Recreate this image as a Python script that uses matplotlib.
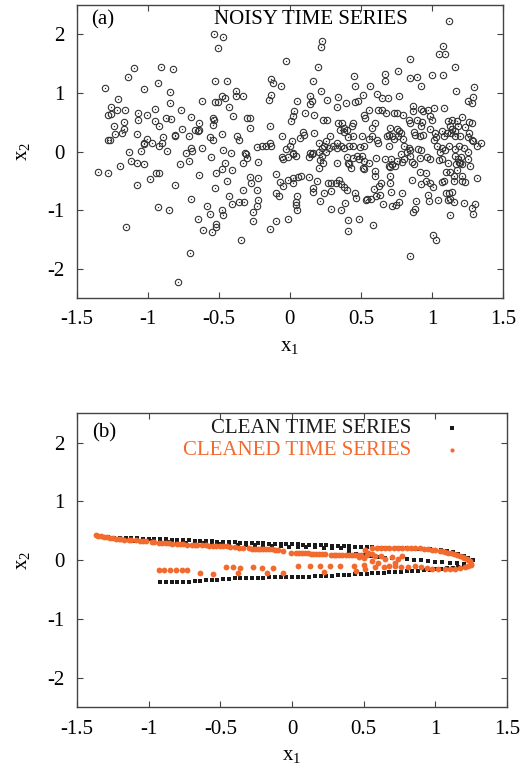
import matplotlib
matplotlib.use("Agg")
import matplotlib.pyplot as plt

plt.rcParams['font.family'] = ['Liberation Serif', 'DejaVu Serif']
plt.rcParams['mathtext.fontset'] = 'custom'
plt.rcParams['mathtext.rm'] = 'Liberation Serif'
plt.rcParams['axes.unicode_minus'] = False

# ---------------- panel (a): noisy time series ----------------
noisy_x1 = [
    -0.535, -0.47, -0.507, -0.91, -0.82, -1.10, -1.14, -0.93, -1.305, -1.03, -0.845, -0.526, -0.446, -1.21,
    -0.848, -0.62, -0.48, -0.53, -0.51, -1.26, -1.26, -1.28, -1.216, -1.16, -1.07, -1.01, -0.95, -1.07,
    -0.95, -0.92, -0.87, -0.84, -0.77, -0.70, -0.64, -0.54, -0.535, -0.54, -0.64, -0.67, -0.48, -1.24,
    -1.17, -1.17, -1.18, -1.23, -1.28, -1.27, -1.08, -1.005, -1.03, -1.03, -0.97, -0.92, -0.895, -0.90,
    -0.865, -0.81, -0.81, -0.76, -0.71, -0.70, -0.69, -0.65, -0.617, -1.13, -1.05, -0.54, -0.566,
    -1.12, -1.08, -1.03, -1.20, -1.35, -1.28, -0.94, -0.925, -0.984, -1.08, -0.81, -0.777, -0.71, -0.73,
    -0.641, -0.559, -0.524, -0.48, -0.53, -0.70, -0.93, -0.85, -0.587, -0.563, -0.479, -0.47, -0.648,
    -0.52, -0.52, -0.613, -0.55, -1.153, -0.704, -0.79,
    0.223, 0.218, -0.024, 0.195, -0.134, -0.122, -0.066, 0.16, 0.216, 0.455, 0.462, 0.516, -0.38, -0.38,
    -0.329, -0.46, -0.427, -0.40, -0.30, -0.282, -0.282, -0.141, -0.136, -0.146, 0.047, 0.145, 0.153,
    0.145, 0.263, 0.34, 0.329, 0.394, 0.46, 0.479, 0.103, 0.169, 0.028, 0.023, 0.005, 0.23, 0.263, 0.34,
    0.366, 0.352, 0.38, 0.404, 0.38, 0.434, 0.446, 0.41, 0.446, 0.282, 0.254, 0.329, 0.357, 0.207, 0.223,
    0.24, 0.089, 0.099, 0.07, 0.012, 0.0, 0.169, -0.059, -0.141, -0.136, -0.169, -0.2, -0.23, -0.371,
    -0.357, -0.474, -0.418, -0.317, -0.024, 0.023, 0.141, 0.16, 0.277, 0.305, 0.333, 0.38, 0.418, 0.441,
    0.493, 0.521,
    1.122, 1.075, 1.047, 1.094, 0.847, 1.16, 0.76, 0.667, 0.667, 0.847, 0.894, 1.0, 1.075, 0.925, 0.566,
    0.613, 0.648, 0.69, 0.77, 1.169, 1.3, 1.293, 1.253, 1.282, 0.559, 0.624, 0.648, 0.676, 0.73, 0.753,
    0.8, 0.864, 0.864, 0.925, 0.941, 0.972, 1.012, 1.082, 0.519, 0.526, 0.596, 0.577, 0.707, 0.695, 0.753,
    0.836, 0.847, 0.894, 0.934, 0.925, 0.988, 1.0, 1.117, 1.14, 1.176, 1.211, 1.129, 1.145, 1.183, 1.263,
    1.282, 1.235, 0.77, 0.784, 0.765, 0.80, 0.718, 0.73, 0.871, 0.883, 0.918, 0.941, 0.988, 1.019, 1.028,
    1.012, 1.07, 1.082, 1.106, 1.136, 1.164, 1.16, 1.2, 1.263, 1.253, 1.282, 0.507, 0.554, 0.577, 0.613,
    0.62, 0.683, 0.695, 0.807, 0.836, 0.847, 0.901, 0.925, 1.035, 1.07, 1.094, 1.122, 1.16, 1.192, 1.223,
    1.293, 1.317, 1.347,
    -0.31, -0.30, -0.458, -0.411, -0.333, -0.223, -0.059, -0.052, -0.012, 0.023, 0.042, 0.136, 0.153,
    0.207, 0.223, 0.253, 0.211, 0.23, 0.207, 0.329, 0.399, 0.41, 0.427, 0.418, 0.446, 0.474, 0.488,
    0.512, -0.441, -0.282, -0.277, -0.223, -0.329, -0.235, -0.427, -0.411, -0.357, -0.324, -0.223,
    -0.23, -0.258, -0.263, -0.099, -0.07, -0.047, -0.099, -0.075, -0.012, 0.019, 0.019, 0.059, 0.075,
    0.136, 0.192, 0.164, 0.164, 0.24, 0.211, 0.052, 0.042, 0.042, 0.052, -0.099, -0.012, -0.141, -0.347,
    0.27, 0.293, 0.324, 0.347, 0.357, 0.38, 0.399, 0.293, 0.289, 0.357, 0.39, 0.458, 0.465, 0.406, 0.406,
    0.488, 0.535,
    0.507, 0.519, 0.554, 0.519, 0.606, 0.671, 0.714, 0.695, 0.707, 0.718, 0.742, 0.753, 0.789, 0.807,
    0.784, 0.824, 0.847, 0.859, 0.871, 0.918, 0.965, 0.988, 1.059, 1.07, 1.117, 1.164, 1.183, 1.206, 1.2,
    1.211, 1.253, 1.258, 1.317, 1.27, 0.596, 0.6, 0.589, 0.643, 0.629, 0.707, 0.707, 0.714, 0.542, 0.573,
    0.606, 0.636, 0.653, 0.718, 0.746, 0.77, 0.793, 0.859, 0.918, 0.958, 0.958, 0.988, 1.005, 0.925,
    0.887, 0.878, 0.864, 0.972, 0.977, 1.042, 1.052, 1.099, 1.129, 1.07, 1.082, 1.099, 1.122, 1.141,
    1.129, 1.113, 1.153, 1.169, 1.188, 1.176, 1.153, 1.153, 1.211, 1.211, 1.235, 1.223, 1.305, 1.282,
    1.293, 1.129, 0.582, 1.005, 1.028, 0.847,
]
noisy_x2 = [
    2.00, 1.95, 1.76, 1.45, 1.41, 1.42, 1.27, 1.17, 1.08, 1.07, 1.02, 1.20, 1.21, 0.90,
    0.82, 0.86, 0.94, 0.84, 0.84, 0.76, 0.64, 0.63, 0.70, 0.71, 0.66, 0.63, 0.73, 0.545,
    0.52, 0.44, 0.57, 0.56, 0.70, 0.59, 0.48, 0.57, 0.545, 0.46, 0.36, 0.36, 0.30, 0.44,
    0.50, 0.39, 0.32, 0.30, 0.19, 0.19, 0.30, 0.22, 0.15, 0.12, 0.14, 0.09, 0.25, 0.15,
    0.01, 0.26, 0.29, 0.39, 0.26, 0.06, 0.01, 0.35, 0.06, -0.01, 0.01, 0.20, 0.25,
    -0.165, -0.20, -0.215, -0.25, -0.35, -0.37, -0.375, -0.363, -0.465, -0.58, -0.58, -0.22, -0.165, -0.03,
    -0.40, -0.10, -0.375, -0.306, -0.62, -0.806, -0.95, -1.00, -0.93, -1.07, -0.99, -1.08, -1.15,
    -1.24, -1.28, -1.34, -1.37, -1.28, -1.725, -2.22,
    1.88, 1.78, 1.55, 1.44, 1.24, 1.17, 1.12, 1.20, 1.04, 1.29, 1.12, 0.97, 1.03, 0.94,
    0.95, 0.91, 0.76, 0.61, 0.57, 0.57, 0.40, 0.43, 0.97, 0.885, 0.87, 0.94, 0.86,
    0.81, 0.885, 0.925, 0.755, 0.82, 0.84, 0.857, 0.65, 0.63, 0.69, 0.61, 0.52, 0.53, 0.53, 0.48,
    0.48, 0.37, 0.40, 0.36, 0.33, 0.44, 0.49, 0.25, 0.26, 0.26, 0.18, 0.15, 0.09, 0.14, 0.06,
    0.09, 0.33, 0.29, 0.23, 0.18, 0.10, 0.32, 0.27, 0.15, 0.10, 0.09, 0.09, 0.08, 0.27,
    0.19, 0.03, -0.02, -0.03, 0.05, -0.03, -0.03, -0.03, 0.06, 0.09, 0.06, 0.06, 0.10, 0.09,
    0.08, 0.09,
    2.23, 1.80, 1.67, 1.67, 1.58, 1.44, 1.37, 1.33, 1.20, 1.25, 1.28, 1.31, 1.31, 1.11, 1.12,
    0.98, 0.91, 0.91, 0.95, 1.04, 1.10, 0.93, 0.87, 0.82, 0.71, 0.71, 0.71, 0.66, 0.65, 0.65,
    0.63, 0.77, 0.69, 0.73, 0.69, 0.71, 0.74, 0.74, 0.63, 0.57, 0.48, 0.40, 0.40, 0.29, 0.39,
    0.545, 0.48, 0.545, 0.50, 0.43, 0.60, 0.53, 0.52, 0.545, 0.52, 0.59, 0.43, 0.39, 0.43, 0.50,
    0.49, 0.42, 0.35, 0.31, 0.26, 0.22, 0.27, 0.22, 0.33, 0.29, 0.26, 0.29, 0.39, 0.32, 0.25,
    0.20, 0.35, 0.26, 0.31, 0.32, 0.35, 0.26, 0.27, 0.32, 0.25, 0.20, 0.26, 0.22, 0.26, 0.20,
    0.15, 0.26, 0.10, 0.09, 0.06, 0.02, 0.05, 0.02, 0.09, 0.06, 0.02, 0.09, 0.05, 0.10, 0.06,
    0.18, 0.10, 0.14,
    -0.05, -0.11, -0.20, -0.32, -0.19, -0.18, -0.09, -0.12, -0.09, -0.05, -0.07, -0.09, -0.05,
    -0.01, -0.08, -0.01, -0.14, -0.19, -0.28, -0.20, -0.09, -0.19, -0.28, -0.22, -0.11, -0.07, -0.12,
    -0.28, -0.50, -0.43, -0.53, -0.45, -0.65, -0.66, -0.76, -0.90, -0.86, -0.87, -0.83,
    -0.93, -1.04, -1.19, -0.39, -0.52, -0.59, -0.70, -0.76, -0.48, -0.45, -0.53, -0.43, -0.42,
    -0.43, -0.50, -0.62, -0.69, -0.70, -0.85, -0.76, -0.87, -0.92, -0.99, -1.19, -1.16, -1.32, -1.51,
    -0.53, -0.54, -0.53, -0.48, -0.56, -0.60, -0.66, -0.675, -0.98, -1.00, -0.885, -0.70, -0.79, -1.17, -1.36,
    -1.15, -0.82,
    -0.07, -0.165, -0.20, -0.30, -0.11, -0.12, -0.12, -0.24, -0.26, -0.22, -0.24, -0.165, -0.18, -0.12,
    -0.05, -0.01, -0.08, -0.18, -0.22, -0.11, -0.09, -0.12, -0.01, -0.12, -0.20, -0.07, -0.12, -0.09, -0.19,
    -0.22, -0.12, 0.0, -0.45, -0.25, -0.33, -0.42, -0.64, -0.53, -0.59, -0.42, -0.53, -0.69, -0.81, -0.81,
    -0.76, -0.75, -0.90, -0.93, -0.92, -0.86, -0.70, -0.48, -0.35, -0.375, -0.50, -0.545, -0.60, -0.56,
    -0.85, -0.98, -1.04, -0.75, -0.845, -0.83, -0.15, -0.35, -0.35, -0.52, -0.50, -0.70, -0.71, -0.69,
    -0.81, -0.82, -0.86, -0.22, -0.18, -0.31, -0.41, -0.50, -0.42, -0.50, -0.52, -0.885, -0.90, -0.96,
    -1.07, -1.09, -1.26, -1.43, -1.51, -1.79,
]

# ---------------- panel (b): clean and cleaned series ----------------
clean_x1 = [
    -1.28, -1.24, -1.20, -1.16, -1.12, -1.08, -1.04, -1.00, -0.96, -0.92, -0.88, -0.84, -0.80, -0.76,
    -0.72, -0.68, -0.64, -0.60, -0.56, -0.52, -0.48, -0.44, -0.40, -0.36, -0.32, -0.28, -0.24, -0.20,
    -0.16, -0.12, -0.08, -0.04, 0.00, 0.04, 0.08, 0.12, 0.16, 0.20, 0.24, 0.28, 0.32, 0.36, 0.40, 0.44,
    0.48, 0.52, 0.56, 0.60, 0.64, 0.68, 0.72, 0.76, 0.80, 0.84, 0.88, 0.92, 0.96, 1.00, 1.04, 1.08,
    1.12, 1.16, 1.20, 1.23, 1.26,
    -1.22, -1.16, -1.10, -1.04, -0.98, -0.92, -0.86, -0.80, -0.74, -0.68, -0.62, -0.56, -0.50, -0.44,
    -0.38, -0.32, -0.26, -0.20, -0.14, -0.08, -0.02, 0.04, 0.10, 0.16, 0.22, 0.28, 0.34, 0.40,
    -0.92, -0.88, -0.84, -0.80, -0.76, -0.72, -0.68, -0.64, -0.60, -0.56, -0.52, -0.48, -0.44, -0.40,
    -0.36, -0.32, -0.28, -0.24, -0.20, -0.16, -0.12, -0.08, -0.04, 0.00, 0.04, 0.08, 0.12, 0.16, 0.20,
    0.24, 0.28, 0.32, 0.36, 0.40, 0.44, 0.48, 0.52, 0.56, 0.60, 0.64, 0.68, 0.72, 0.76, 0.80, 0.84,
    0.88, 0.92, 0.96, 1.00, 1.04, 1.08, 1.12, 1.16, 1.20, 1.24,
    0.40, 0.45, 0.50, 0.55, 0.60, 0.65, 0.70, 0.75, 0.80, 0.85, 0.90, 0.95, 1.00, 1.05, 1.10, 1.15, 1.20,
]
clean_x2 = [
    0.39, 0.385, 0.38, 0.377, 0.373, 0.37, 0.367, 0.364, 0.36, 0.356, 0.352, 0.348, 0.344, 0.34,
    0.336, 0.332, 0.328, 0.324, 0.32, 0.316, 0.312, 0.308, 0.304, 0.30, 0.296, 0.292, 0.289, 0.286,
    0.283, 0.28, 0.277, 0.274, 0.271, 0.268, 0.265, 0.262, 0.258, 0.254, 0.25, 0.246, 0.242, 0.238,
    0.234, 0.23, 0.226, 0.222, 0.218, 0.215, 0.212, 0.209, 0.206, 0.203, 0.2, 0.197, 0.194, 0.19,
    0.185, 0.178, 0.168, 0.155, 0.135, 0.108, 0.077, 0.045, 0.01,
    0.345, 0.338, 0.331, 0.325, 0.32, 0.315, 0.309, 0.303, 0.297, 0.291, 0.285, 0.279, 0.273, 0.267,
    0.261, 0.255, 0.25, 0.245, 0.241, 0.236, 0.231, 0.226, 0.221, 0.216, 0.21, 0.205, 0.199, 0.193,
    -0.38, -0.378, -0.375, -0.372, -0.368, -0.364, -0.358, -0.352, -0.345, -0.338, -0.331, -0.325,
    -0.318, -0.311, -0.305, -0.302, -0.3, -0.298, -0.296, -0.294, -0.292, -0.29, -0.288, -0.286,
    -0.284, -0.281, -0.278, -0.275, -0.271, -0.267, -0.263, -0.258, -0.253, -0.248, -0.243, -0.238,
    -0.232, -0.226, -0.22, -0.214, -0.208, -0.202, -0.196, -0.19, -0.183, -0.176, -0.168, -0.16,
    -0.152, -0.145, -0.138, -0.13, -0.122, -0.112, -0.095,
    0.12, 0.10, 0.085, 0.07, 0.055, 0.045, 0.035, 0.025, 0.015, 0.005, -0.005, -0.015, -0.025, -0.035,
    -0.045, -0.055, -0.06,
]

cleaned_x1 = [
    -1.37, -1.33, -1.29, -1.25, -1.21, -1.17, -1.12, -1.06, -1.02, -0.98, -0.93, -0.88, -0.84, -0.80,
    -0.76, -0.70, -0.66, -0.60, -0.55, -0.50, -0.45, -0.40, -0.37, -0.30, -0.26, -0.22, -0.18, -0.14,
    -0.10, -0.06, -0.01, 0.03, 0.07, 0.11, 0.15, 0.19, 0.23, 0.27, 0.31, 0.35, 0.40, 0.44, 0.48, 0.52,
    0.51, 0.56, 0.62, 0.68, 0.74, 0.80, 0.86, 0.92, 0.98, 1.03, 1.07, 1.11, 1.15, 1.19, 1.22, 1.24,
    1.25, 1.25,
    0.53, 0.56, 0.58, 0.62, 0.65, 0.695, 0.74, 0.765, 0.555, 0.60, 0.72, 0.50, 0.47,
    -0.93, -0.89, -0.85, -0.81, -0.77, -0.735, -0.64, -0.55, -0.46, -0.41, -0.375,
    -0.363, -0.27, -0.21, -0.177, -0.13, -0.06, 0.044, 0.125, 0.195, 0.22, 0.265, 0.335, 0.43, 0.45, 0.50,
    0.51, 0.58, 0.72, 0.81, 0.86, 0.974, 1.07, 1.14, 1.21,
    -1.35, -1.31, -1.27, -1.23, -1.19, -1.14, -1.09, -1.04, -0.96, -0.91, -0.86, -0.78, -0.73, -0.68,
    -0.63, -0.58, -0.53, -0.48, -0.43, -0.34, -0.28, -0.24, -0.20, -0.16, -0.12, 0.05, 0.09, 0.13, 0.17,
    0.21, 0.29, 0.33, 0.38, 0.42, 0.46,
    0.59, 0.65, 0.71, 0.77, 0.83, 0.89, 0.95, 1.00, 1.05, 1.09, 1.13, 1.17, 1.20, 1.23,
    0.90, 0.94, 1.02, 1.10, 1.17, 1.23, 0.64, 0.68, 0.76,
]
cleaned_x2 = [
    0.42, 0.41, 0.395, 0.37, 0.36, 0.35, 0.34, 0.33, 0.32, 0.31, 0.30, 0.29, 0.28, 0.275,
    0.27, 0.26, 0.255, 0.25, 0.245, 0.24, 0.235, 0.225, 0.21, 0.20, 0.195, 0.19, 0.19, 0.185,
    0.18, 0.15, 0.12, 0.12, 0.115, 0.115, 0.11, 0.11, 0.105, 0.09, 0.085, 0.09, 0.085, 0.09, 0.085, 0.08,
    0.17, 0.2, 0.2, 0.205, 0.21, 0.21, 0.205, 0.19, 0.18, 0.16, 0.14, 0.115, 0.09, 0.06, 0.02, -0.02,
    -0.06, -0.09,
    0.13, 0.10, 0.076, 0.07, 0.02, 0.05, 0.02, 0.076, -0.01, -0.04, -0.04, 0.03, 0.05,
    -0.17, -0.17, -0.175, -0.17, -0.175, -0.17, -0.22, -0.235, -0.12, -0.12, -0.21,
    -0.14, -0.12, -0.14, -0.21, -0.14, -0.22, -0.105, -0.105, -0.105, -0.195, -0.105, -0.095, -0.095, -0.18, -0.08,
    -0.15, -0.12, -0.105, -0.12, -0.094, -0.15, -0.15, -0.15, -0.12,
    0.415, 0.40, 0.38, 0.365, 0.355, 0.345, 0.335, 0.325, 0.305, 0.295, 0.285, 0.27, 0.265, 0.26,
    0.25, 0.245, 0.24, 0.235, 0.23, 0.205, 0.195, 0.19, 0.19, 0.185, 0.18, 0.12, 0.115, 0.11, 0.11,
    0.105, 0.085, 0.09, 0.085, 0.09, 0.08,
    0.2, 0.2, 0.21, 0.21, 0.205, 0.2, 0.185, 0.17, 0.15, 0.13, 0.1, 0.075, 0.04, 0.0,
    -0.12, -0.13, -0.15, -0.15, -0.14, -0.1, -0.11, -0.105, -0.11,
]

x_ticks = [-1.5, -1, -0.5, 0, 0.5, 1, 1.5]
x_tick_labels = ['-1.5', '-1', '-0.5', '0', '0.5', '1', '1.5']
y_ticks = [-2, -1, 0, 1, 2]

orange = '#f26a2e'
frame = '#444444'

fig = plt.figure(figsize=(5.2, 7.75), dpi=100)
ax_a = fig.add_axes([0.148, 0.6155, 0.819, 0.378])
ax_b = fig.add_axes([0.148, 0.0877, 0.827, 0.379])


def style_axes(ax):
    ax.set_xlim(-1.5, 1.5)
    ax.set_ylim(-2.5, 2.5)
    ax.set_xticks(x_ticks)
    ax.set_xticklabels(x_tick_labels)
    ax.set_yticks(y_ticks)
    ax.tick_params(direction='in', length=4, width=0.8, color=frame,
                   top=True, right=True, labelsize=15, pad=9)
    for s in ax.spines.values():
        s.set_color(frame)
        s.set_linewidth(1.0)
    ax.set_xlabel('x$_\\mathregular{1}$', fontsize=15, labelpad=6)
    ax.set_ylabel('x$_\\mathregular{2}$', fontsize=15, labelpad=10)


# panel (a)
ax_a.plot(noisy_x1, noisy_x2, linestyle='none', marker='o', markersize=4.6,
          markerfacecolor='none', markeredgecolor='#333333', markeredgewidth=0.8)
ax_a.plot(noisy_x1, noisy_x2, linestyle='none', marker='o', markersize=1.0,
          markerfacecolor='#333333', markeredgewidth=0)
style_axes(ax_a)
ax_a.text(0.033, 0.95, '(a)', transform=ax_a.transAxes, fontsize=15, ha='left', va='center')
ax_a.text(0.55, 0.95, 'NOISY TIME SERIES', transform=ax_a.transAxes, fontsize=15,
          ha='center', va='center')

# panel (b)
ax_b.plot(clean_x1, clean_x2, linestyle='none', marker='s', markersize=3.4,
          color='#1a1a1a', markeredgewidth=0)
ax_b.plot(cleaned_x1, cleaned_x2, linestyle='none', marker='o', markersize=4.2,
          color=orange, markeredgewidth=0)
style_axes(ax_b)
ax_b.text(0.035, 0.935, '(b)', transform=ax_b.transAxes, fontsize=15, ha='left', va='center')
ax_b.text(0.777, 0.949, 'CLEAN TIME SERIES', transform=ax_b.transAxes, fontsize=15,
          ha='right', va='center', color='#1a1a1a')
ax_b.text(0.777, 0.874, 'CLEANED TIME SERIES', transform=ax_b.transAxes, fontsize=15,
          ha='right', va='center', color=orange)
ax_b.plot([0.872], [0.949], transform=ax_b.transAxes, marker='s', markersize=3.4,
          color='#1a1a1a', markeredgewidth=0)
ax_b.plot([0.872], [0.874], transform=ax_b.transAxes, marker='o', markersize=3.0,
          color=orange, markeredgewidth=0)

fig.savefig('out.png', dpi=100)
